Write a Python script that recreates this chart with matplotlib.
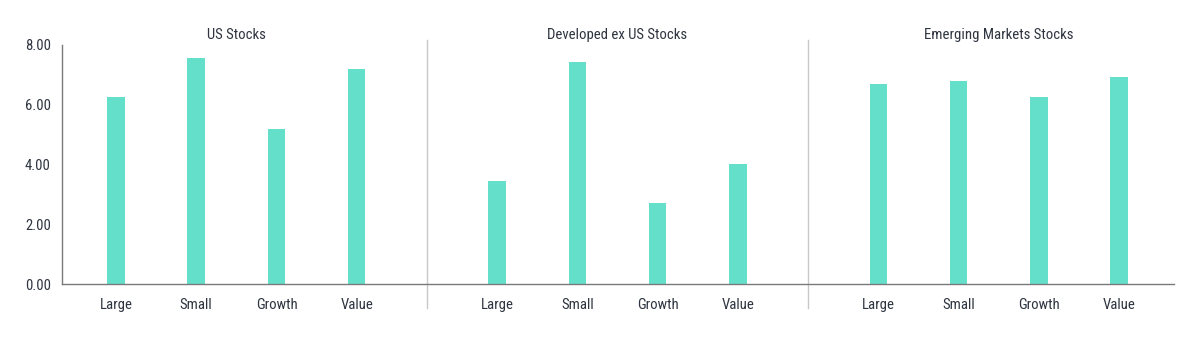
import matplotlib
matplotlib.use("Agg")
import matplotlib.pyplot as plt
import matplotlib.transforms as mtransforms
from matplotlib import font_manager

groups = ["US Stocks", "Developed ex US Stocks", "Emerging Markets Stocks"]
categories = ["Large", "Small", "Growth", "Value"]
us_values = [6.26, 7.55, 5.20, 7.20]
dev_values = [3.44, 7.42, 2.70, 4.03]
em_values = [6.69, 6.78, 6.25, 6.93]
yticks = [0, 2, 4, 6, 8]
ytick_labels = ["0.00", "2.00", "4.00", "6.00", "8.00"]

names = {f.name for f in font_manager.fontManager.ttflist}
fam = "DejaVu Sans"
fs = 9.0
for cand, size in [("Roboto Condensed", 10.6), ("Open Sans Condensed", 10.5),
                   ("Liberation Sans Narrow", 10.5), ("DejaVu Sans Condensed", 9.5),
                   ("Lato", 10.0)]:
    if cand in names:
        fam, fs = cand, size
        break
plt.rcParams["font.family"] = [fam, "DejaVu Sans"]

bar_color = "#64E0CA"
text_color = "#2E3540"
group_step = 4.75

fig = plt.figure(figsize=(12, 3.38), dpi=100)
ax = fig.add_axes([62/1200, 54/338, (1174-62)/1200, (284-45)/338])

all_vals = [us_values, dev_values, em_values]
xs_all = []
for g, vals in enumerate(all_vals):
    xs = [g*group_step + i for i in range(len(categories))]
    xs_all += xs
    ax.bar(xs, vals, width=0.218, color=bar_color, zorder=2)
    center = (xs[0] + xs[-1]) / 2
    ax.text(center, 1.0 + 10/239, groups[g],
            transform=mtransforms.blended_transform_factory(ax.transData, ax.transAxes),
            ha="center", va="center", fontsize=fs, color=text_color)

ax.set_xticks(xs_all)
ax.set_xticklabels(categories * 3, fontsize=fs, color=text_color)
ax.set_yticks(yticks)
ax.set_yticklabels(ytick_labels, fontsize=fs, color=text_color)
ax.tick_params(axis="both", length=0)
ax.tick_params(axis="x", pad=10)
ax.tick_params(axis="y", pad=8)
ax.set_xlim(-0.673, 13.185)
ax.set_ylim(0, 8)

for s in ["top", "right"]:
    ax.spines[s].set_visible(False)
for s in ["left", "bottom"]:
    ax.spines[s].set_color("#7a7a7a")
    ax.spines[s].set_linewidth(1.0)

trans = mtransforms.blended_transform_factory(ax.transData, fig.transFigure)
for g in range(2):
    xsep = g*group_step + 3 + (group_step - 3) / 2
    ax.plot([xsep, xsep], [1 - 40/338, 1 - 308/338], transform=trans, color="#c8c8c8",
            linewidth=1.0, clip_on=False, zorder=1)

fig.savefig("out.png", dpi=100, facecolor="white")
